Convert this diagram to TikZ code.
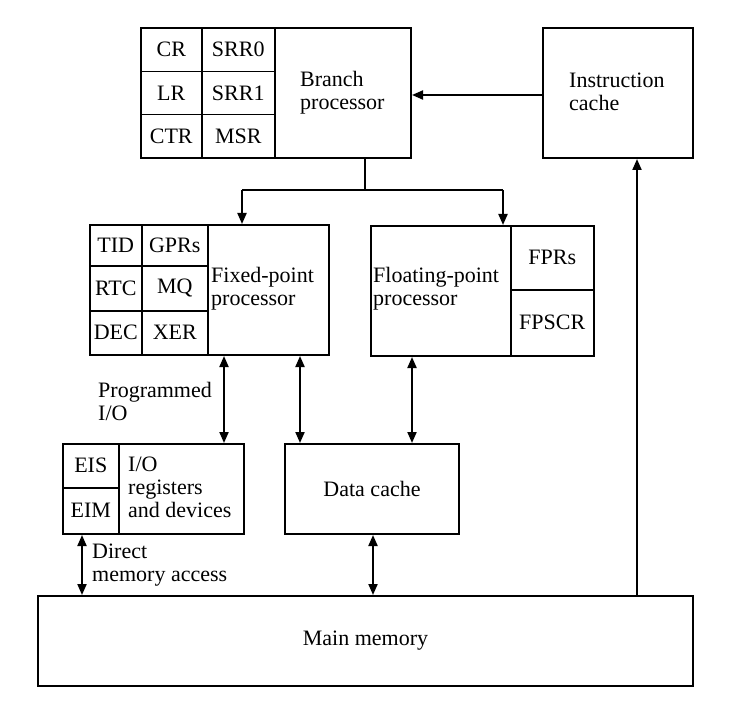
\documentclass[tikz,border=0pt]{standalone}
\usepackage{fontspec}
\setmainfont{Liberation Serif}
\usetikzlibrary{arrows.meta}
\begin{document}
\begin{tikzpicture}[x=1pt,y=-1pt,
  box/.style={draw, line width=2pt, anchor=north west, inner sep=0pt, font=\fontsize{22}{23}\selectfont},
  cell/.style={draw, line width=1.5pt, anchor=north west, inner sep=0pt, font=\fontsize{22}{23}\selectfont},
  sz/.style 2 args={minimum width=#1pt, minimum height=#2pt},
  lbl/.style={font=\fontsize{22}{23}\selectfont, align=left, inner sep=0pt, anchor=west},
  conn/.style={line width=2pt},
  tip/.style={conn,-{Triangle[length=11pt,width=9pt]}},
  dtip/.style={conn,{Triangle[length=11pt,width=9pt]}-{Triangle[length=11pt,width=9pt]}}]
\useasboundingbox (0,0) rectangle (751,727);
% Branch processor
\node[box, sz={270}{130}] (bp) at (140,27) {};
\node[cell, sz={61}{44}] (cr) at (140,27) {CR};
\node[cell, sz={73}{44}] (srr0) at (201,27) {SRR0};
\node[cell, sz={61}{43}] (lr) at (140,71) {LR};
\node[cell, sz={73}{43}] (srr1) at (201,71) {SRR1};
\node[cell, sz={61}{43}] (ctr) at (140,114) {CTR};
\node[cell, sz={73}{43}] (msr) at (201,114) {MSR};
\node[lbl] (bpt) at (300,93) {Branch\\processor};
% Instruction cache
\node[box, sz={150}{130}] (ic) at (542,27) {};
\node[lbl] (ict) at (569,92) {Instruction\\cache};
% Fixed-point
\node[box, sz={239}{130}] (fx) at (89,224) {};
\node[cell, sz={52}{41}] (tid) at (89,224) {TID};
\node[cell, sz={66}{41}] (gpr) at (141,224) {GPRs};
\node[cell, sz={52}{45}] (rtc) at (89,265) {RTC};
\node[cell, sz={66}{45}] (mq) at (141,265) {MQ};
\node[cell, sz={52}{44}] (dec) at (89,310) {DEC};
\node[cell, sz={66}{44}] (xer) at (141,310) {XER};
\node[lbl] (fxt) at (211,289) {Fixed-point\\processor};
% Floating-point
\node[box, sz={223}{130}] (fp) at (370,225) {};
\node[cell, sz={83}{64}] (fpr) at (510,225) {FPRs};
\node[cell, sz={83}{66}] (fpscr) at (510,289) {FPSCR};
\node[lbl] (fpt) at (373,289) {Floating-point\\processor};
% I/O
\node[box, sz={181}{90}] (io) at (62,443) {};
\node[cell, sz={56}{44}] (eis) at (62,443) {EIS};
\node[cell, sz={56}{46}] (eim) at (62,487) {EIM};
\node[lbl] (iot) at (128,487) {I/O\\registers\\and devices};
% Data cache
\node[box, sz={174}{90}] (dc) at (284,443) {Data cache};
% Main memory
\node[box, sz={655}{90}] (mm) at (37,595) {Main memory};
% labels
\node[lbl] (pio) at (98,401) {Programmed\\I/O};
\node[lbl] (dma) at (92,565) {Direct\\memory access};
% connector x positions
\coordinate (xa) at (365,0);
\coordinate (xf) at (242,0);
\coordinate (xg) at (503,0);
\coordinate (xio) at (224,0);
\coordinate (xd1) at (300,0);
\coordinate (xd2) at (412,0);
\coordinate (xd3) at (373,0);
\coordinate (xdma) at (82,0);
\coordinate (xic) at (637,0);
\coordinate (yj) at (0,190);
\coordinate (yic) at (0,95);
% connectors
\draw[tip] (ic.west |- yic) -- (bp.east |- yic);
\draw[conn] (bp.south -| xa) -- (xa |- yj);
\draw[tip] (xf |- yj) -- (fx.north -| xf);
\draw[tip] (xg |- yj) -- (fp.north -| xg);
\draw[conn] (xf |- yj) -- (xg |- yj);
\draw[dtip] (fx.south -| xio) -- (io.north -| xio);
\draw[dtip] (fx.south -| xd1) -- (dc.north -| xd1);
\draw[dtip] (fp.south -| xd2) -- (dc.north -| xd2);
\draw[dtip] (dc.south -| xd3) -- (mm.north -| xd3);
\draw[dtip] (io.south -| xdma) -- (mm.north -| xdma);
\draw[tip] (mm.north -| xic) -- (ic.south -| xic);
\end{tikzpicture}
\end{document}
